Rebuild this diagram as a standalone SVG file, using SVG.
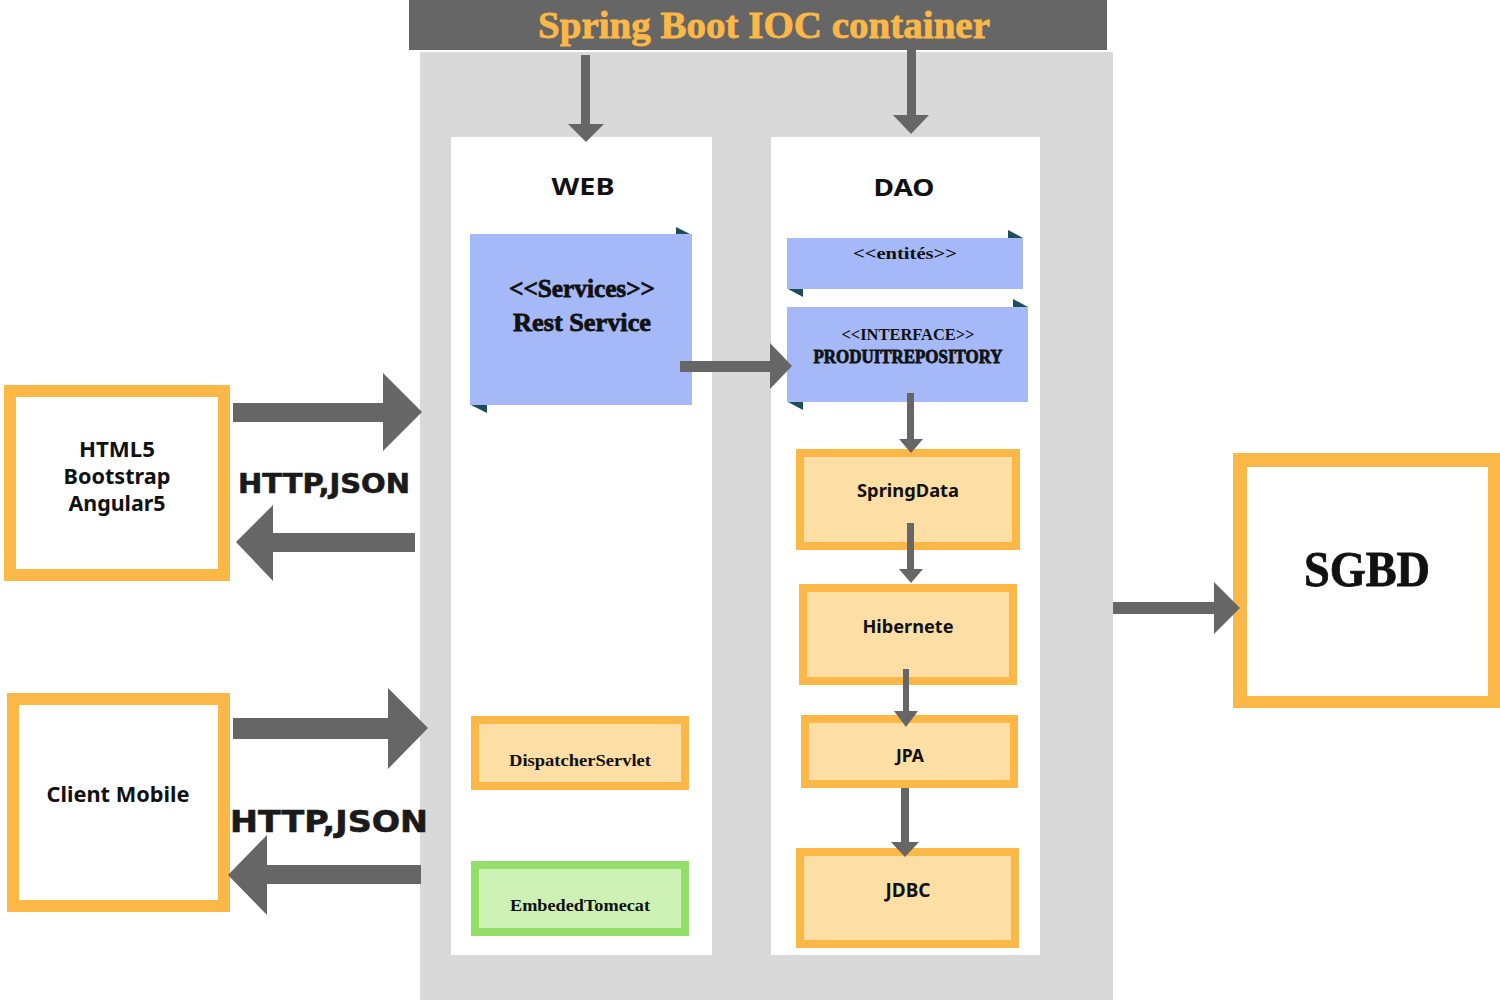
<svg xmlns="http://www.w3.org/2000/svg" width="1500" height="1000" viewBox="0 0 1500 1000">
<style>
.arrow{fill:#666666}
.serif{font-family:"Liberation Serif","DejaVu Serif",serif;font-weight:bold;fill:#111111}
.heavy{stroke:#111111;stroke-width:0.8}
.sans{font-family:"Noto Sans","DejaVu Sans",sans-serif;font-weight:bold;fill:#111111}
.wide{font-family:"DejaVu Sans","Noto Sans",sans-serif;font-weight:bold;fill:#1a1a1a;stroke:#1a1a1a;stroke-width:0.6}
.client{fill:#ffffff;stroke:#FBB847;stroke-width:12}
.comp{fill:#FDDEA5;stroke:#FBB847;stroke-width:8}
.green{fill:#CDF0B4;stroke:#94DF6A;stroke-width:8}
.note{fill:#A5B9F8}
.fold{fill:#1E4D5A}
.panel{fill:#ffffff}
</style>

<g id="container">
  <rect x="420" y="52" width="693" height="948" fill="#D9D9D9"/>
  <rect x="409" y="0" width="698" height="50" fill="#666666"/>
  <text class="serif" x="764" y="38" font-size="38" text-anchor="middle" style="fill:#FBB847;stroke:#FBB847;stroke-width:0.8" textLength="452" lengthAdjust="spacingAndGlyphs">Spring Boot IOC container</text>
</g>

<g id="web">
  <rect class="panel" x="451" y="137" width="261" height="818"/>
  <text class="sans" x="583" y="195" font-size="24" text-anchor="middle" textLength="63" lengthAdjust="spacingAndGlyphs">WEB</text>
</g>

<g id="dao">
  <rect class="panel" x="771" y="137" width="269" height="818"/>
  <text class="sans" x="904" y="196" font-size="24" text-anchor="middle" textLength="61" lengthAdjust="spacingAndGlyphs">DAO</text>
</g>

<g id="services">
  <polygon class="fold" points="676,227 692,235 676,235"/>
  <polygon class="fold" points="471,405 487,413 487,405"/>
  <rect class="note" x="470" y="234" width="222" height="171"/>
  <text class="serif heavy" x="582" y="297" font-size="26" text-anchor="middle" textLength="146" lengthAdjust="spacingAndGlyphs">&lt;&lt;Services&gt;&gt;</text>
  <text class="serif heavy" x="582" y="331" font-size="26" text-anchor="middle" textLength="138" lengthAdjust="spacingAndGlyphs">Rest Service</text>
</g>

<g id="entites">
  <polygon class="fold" points="1008,230 1023,238 1008,238"/>
  <polygon class="fold" points="788,289 803,297 803,289"/>
  <rect class="note" x="787" y="238" width="236" height="51"/>
  <text class="serif" x="905" y="259" font-size="17" text-anchor="middle" textLength="104" lengthAdjust="spacingAndGlyphs">&lt;&lt;entités&gt;&gt;</text>
</g>

<g id="interface">
  <polygon class="fold" points="1013,299 1028,307 1013,307"/>
  <polygon class="fold" points="788,402 803,410 803,402"/>
  <rect class="note" x="787" y="307" width="241" height="95"/>
  <text class="serif" x="908" y="340" font-size="17" text-anchor="middle" textLength="133" lengthAdjust="spacingAndGlyphs">&lt;&lt;INTERFACE&gt;&gt;</text>
  <text class="serif heavy" x="908" y="363" font-size="18" text-anchor="middle" textLength="189" lengthAdjust="spacingAndGlyphs">PRODUITREPOSITORY</text>
</g>

<g id="springdata">
  <rect class="comp" x="800" y="453" width="216" height="93"/>
  <text class="sans" x="908" y="497" font-size="18" text-anchor="middle" textLength="102" lengthAdjust="spacingAndGlyphs">SpringData</text>
</g>

<g id="hibernete">
  <rect class="comp" x="803" y="588" width="210" height="93"/>
  <text class="sans" x="908" y="633" font-size="18" text-anchor="middle" textLength="91" lengthAdjust="spacingAndGlyphs">Hibernete</text>
</g>

<g id="jpa">
  <rect class="comp" x="805" y="719" width="209" height="65"/>
  <text class="sans" x="910" y="762" font-size="17" text-anchor="middle" textLength="28" lengthAdjust="spacingAndGlyphs">JPA</text>
</g>

<g id="jdbc">
  <rect class="comp" x="800" y="852" width="215" height="92"/>
  <text class="sans" x="908" y="897" font-size="19" text-anchor="middle" textLength="45" lengthAdjust="spacingAndGlyphs">JDBC</text>
</g>

<g id="dispatcher">
  <rect class="comp" x="475" y="720" width="210" height="66"/>
  <text class="serif" x="580" y="766" font-size="17" text-anchor="middle" textLength="142" lengthAdjust="spacingAndGlyphs">DispatcherServlet</text>
</g>

<g id="tomcat">
  <rect class="green" x="475" y="865" width="210" height="67"/>
  <text class="serif" x="580" y="911" font-size="17" text-anchor="middle" textLength="140" lengthAdjust="spacingAndGlyphs">EmbededTomecat</text>
</g>

<g id="html5">
  <rect class="client" x="10" y="391" width="214" height="184"/>
  <text class="sans" x="117" y="457" font-size="21" text-anchor="middle" textLength="76" lengthAdjust="spacingAndGlyphs">HTML5</text>
  <text class="sans" x="117" y="484" font-size="21" text-anchor="middle" textLength="107" lengthAdjust="spacingAndGlyphs">Bootstrap</text>
  <text class="sans" x="117" y="511" font-size="21" text-anchor="middle" textLength="97" lengthAdjust="spacingAndGlyphs">Angular5</text>
</g>

<g id="mobile">
  <rect class="client" x="13" y="699" width="211" height="207"/>
  <text class="sans" x="118" y="802" font-size="21" text-anchor="middle" textLength="143" lengthAdjust="spacingAndGlyphs">Client Mobile</text>
</g>

<g id="sgbd">
  <rect x="1233" y="453" width="267" height="255" fill="#FBB847"/>
  <rect x="1247" y="467" width="241" height="229" fill="#ffffff"/>
  <text class="serif heavy" x="1367" y="586" font-size="50" text-anchor="middle" textLength="126" lengthAdjust="spacingAndGlyphs">SGBD</text>
</g>

<g id="labels">
  <text class="wide" x="324" y="493" font-size="26" text-anchor="middle" textLength="172" lengthAdjust="spacingAndGlyphs">HTTP,JSON</text>
  <text class="wide" x="329" y="832" font-size="30" text-anchor="middle" textLength="198" lengthAdjust="spacingAndGlyphs">HTTP,JSON</text>
</g>

<g id="connectors">
  <polygon class="arrow" points="581,55 590,55 590,124 604,124 586,142 568,124 581,124"/>
  <polygon class="arrow" points="907,50 916,50 916,115 929,115 911,134 893,115 907,115"/>
  <polygon class="arrow" points="680,361 770,361 770,343 792,366 770,389 770,372 680,372"/>
  <polygon class="arrow" points="907,393 914,393 914,439 923,439 911,453 899,439 907,439"/>
  <polygon class="arrow" points="907,523 914,523 914,569 923,569 911,583 899,569 907,569"/>
  <polygon class="arrow" points="903,669 909,669 909,711 918,711 906,727 894,711 903,711"/>
  <polygon class="arrow" points="901,788 909,788 909,842 919,842 905,857 891,842 901,842"/>
  <polygon class="arrow" points="233,403 383,403 383,373 422,412 383,451 383,422 233,422"/>
  <polygon class="arrow" points="415,533 273,533 273,505 236,542 273,581 273,552 415,552"/>
  <polygon class="arrow" points="233,718 388,718 388,688 428,728 388,769 388,739 233,739"/>
  <polygon class="arrow" points="421,865 267,865 267,835 228,875 267,915 267,884 421,884"/>
  <polygon class="arrow" points="1113,602 1214,602 1214,582 1240,608 1214,634 1214,614 1113,614"/>
</g>
</svg>
